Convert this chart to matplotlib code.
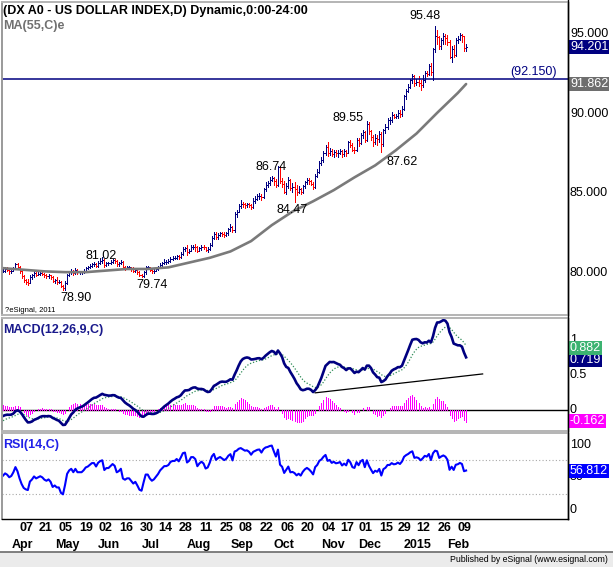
import numpy as np
import pandas as pd
import matplotlib
matplotlib.use("Agg")
import matplotlib.pyplot as plt
from matplotlib.lines import Line2D
from matplotlib.patches import Rectangle
from matplotlib.transforms import blended_transform_factory as blend

plt.rcParams["font.family"] = ["Liberation Sans", "DejaVu Sans"]

# ---------------------------------------------------------------
# data: DX A0 daily bars, 26 Mar 2014 - 13 Feb 2015
# ---------------------------------------------------------------
holidays = ["2014-04-18", "2014-05-26", "2014-07-04", "2014-09-01",
            "2014-11-03", "2014-11-27", "2014-12-25", "2015-01-01"]
trade_days = pd.bdate_range("2014-03-26", "2015-02-13")
trade_days = trade_days[~trade_days.isin(pd.to_datetime(holidays))]

opens = [
    80.25, 80.15, 80.25,
    80.20, 80.10, 80.15, 80.30, 80.55,
    80.40, 80.10, 79.80, 79.55, 79.45,
    79.40, 79.75, 79.85, 80.00,
    79.90, 79.95, 80.00, 79.95, 79.85,
    79.80, 79.85, 79.75, 79.50, 79.55,
    79.45, 79.45, 79.15, 79.05, 79.35,
    79.85, 80.05, 80.15, 80.00, 80.20,
    80.05, 80.05, 80.05, 80.15, 80.30,
    80.35, 80.45, 80.55, 80.55,
    80.45, 80.65, 80.75, 80.80, 80.50,
    80.60, 80.60, 80.70, 80.80, 80.75,
    80.55, 80.60, 80.70, 80.35, 80.30,
    80.35, 80.35, 80.25, 80.15, 80.20,
    80.05, 79.85, 79.80, 80.05,
    80.35, 80.35, 80.20, 80.10, 80.15,
    80.25, 80.35, 80.50, 80.60, 80.70,
    80.70, 80.75, 80.90, 80.95, 80.95,
    81.05, 81.00, 81.20, 81.50, 81.55,
    81.30, 81.40, 81.65, 81.65, 81.60,
    81.40, 81.55, 81.65, 81.60, 81.45,
    81.50, 81.75, 82.20, 82.45, 82.25,
    82.40, 82.50, 82.45, 82.40, 82.50,
    82.75, 82.90, 82.70, 83.70,
    83.85, 84.20, 84.35, 84.30, 84.25,
    84.30, 84.25, 84.15, 84.50, 84.65,
    84.80, 84.85, 84.75, 85.25, 85.55,
    85.65, 85.85, 85.95, 85.75, 85.55,
    86.65, 85.75, 85.60, 85.10, 85.45,
    85.85, 85.35, 85.40, 85.30, 85.10,
    85.25, 85.10, 85.45, 85.70, 85.85,
    85.75, 85.60, 85.40, 86.10, 86.35,
    86.90, 87.10, 87.55, 87.90,
    87.50, 87.65, 87.45, 87.60, 87.50,
    87.55, 87.65, 87.45, 87.65, 87.55,
    88.20, 88.05, 87.75, 87.70,
    88.35, 88.15, 88.65, 88.85, 88.35,
    89.35, 88.90, 88.55, 88.20, 88.50,
    88.40, 88.75, 88.10, 88.95, 89.15,
    89.60, 89.60, 89.90, 89.80,
    89.85, 90.05, 89.95, 90.30,
    91.10, 91.45, 91.70, 92.10, 92.35,
    91.90, 92.00, 91.95, 91.80, 92.10,
    92.55, 92.50, 93.00, 92.60, 94.05,
    94.85, 94.80, 94.25, 94.60, 94.85,
    94.75, 94.50, 93.55, 94.05, 93.70,
    94.60, 94.70, 94.95, 94.85, 94.10,
]
highs = [
    80.35, 80.35, 80.35,
    80.25, 80.25, 80.40, 80.60, 80.65,
    80.45, 80.15, 79.85, 79.65, 79.60,
    79.85, 79.95, 80.10, 80.05,
    80.05, 80.10, 80.05, 80.00, 79.95,
    79.95, 79.90, 79.80, 79.65, 79.75,
    79.55, 79.50, 79.25, 79.50, 79.95,
    80.15, 80.25, 80.20, 80.30, 80.25,
    80.15, 80.15, 80.25, 80.40, 80.45,
    80.55, 80.65, 80.70, 80.60,
    80.75, 80.85, 81.02, 80.90, 80.70,
    80.70, 80.80, 80.90, 80.85, 80.80,
    80.70, 80.80, 80.75, 80.45, 80.45,
    80.45, 80.40, 80.35, 80.30, 80.25,
    80.10, 79.95, 80.15, 80.45,
    80.45, 80.40, 80.25, 80.25, 80.35,
    80.45, 80.60, 80.70, 80.85, 80.80,
    80.85, 81.00, 81.05, 81.05, 81.15,
    81.15, 81.30, 81.60, 81.65, 81.75,
    81.50, 81.75, 81.75, 81.80, 81.70,
    81.65, 81.75, 81.75, 81.65, 81.65,
    81.85, 82.30, 82.55, 82.60, 82.50,
    82.60, 82.60, 82.55, 82.60, 82.85,
    83.05, 82.95, 83.80, 83.95,
    84.30, 84.55, 84.45, 84.40, 84.40,
    84.40, 84.35, 84.70, 84.85, 84.95,
    85.00, 84.95, 85.35, 85.70, 85.80,
    86.00, 86.10, 86.05, 85.90, 86.74,
    86.70, 85.95, 85.75, 85.65, 86.05,
    85.90, 85.65, 85.70, 85.55, 85.45,
    85.35, 85.55, 85.80, 85.95, 85.95,
    85.85, 85.70, 86.20, 86.50, 87.00,
    87.25, 87.65, 88.05, 88.20,
    87.85, 87.80, 87.75, 87.75, 87.70,
    87.80, 87.75, 87.80, 87.75, 88.30,
    88.35, 88.15, 87.90, 88.45,
    88.50, 88.80, 89.00, 88.90, 89.55,
    89.45, 89.00, 88.65, 88.70, 88.65,
    88.90, 88.85, 89.05, 89.35, 89.70,
    89.80, 90.10, 89.95, 89.95,
    90.25, 90.20, 90.45, 91.20,
    91.55, 91.85, 92.20, 92.50, 92.40,
    92.15, 92.35, 92.10, 92.45, 92.65,
    92.70, 93.10, 93.15, 94.15, 95.48,
    95.25, 94.90, 94.75, 95.05, 95.00,
    94.95, 94.60, 94.25, 94.30, 94.75,
    94.90, 95.05, 95.00, 94.90, 94.35,
]
lows = [
    80.05, 80.05, 80.10,
    79.95, 80.00, 80.10, 80.25, 80.30,
    80.00, 79.70, 79.45, 79.30, 79.25,
    79.35, 79.65, 79.75, 79.80,
    79.85, 79.90, 79.85, 79.75, 79.70,
    79.70, 79.65, 79.45, 79.40, 79.30,
    79.35, 79.10, 78.95, 78.90, 79.30,
    79.80, 79.95, 79.90, 79.95, 79.95,
    79.95, 79.95, 80.00, 80.10, 80.25,
    80.30, 80.40, 80.45, 80.35,
    80.40, 80.55, 80.65, 80.40, 80.45,
    80.50, 80.55, 80.60, 80.65, 80.45,
    80.45, 80.55, 80.30, 80.20, 80.25,
    80.25, 80.15, 80.05, 80.05, 79.95,
    79.80, 79.74, 79.75, 79.95,
    80.25, 80.15, 80.00, 80.00, 80.10,
    80.20, 80.30, 80.45, 80.55, 80.55,
    80.60, 80.70, 80.80, 80.85, 80.90,
    80.90, 80.95, 81.10, 81.40, 81.15,
    81.25, 81.35, 81.50, 81.40, 81.30,
    81.35, 81.45, 81.50, 81.35, 81.30,
    81.45, 81.70, 82.15, 82.15, 82.15,
    82.30, 82.35, 82.25, 82.30, 82.40,
    82.65, 82.60, 82.60, 83.50,
    83.80, 84.10, 84.15, 84.10, 84.15,
    84.15, 84.00, 84.05, 84.40, 84.55,
    84.65, 84.60, 84.70, 85.15, 85.40,
    85.55, 85.75, 85.55, 85.40, 85.45,
    85.65, 85.40, 85.00, 84.95, 85.35,
    85.20, 85.10, 84.47, 84.90, 85.00,
    84.95, 85.00, 85.35, 85.60, 85.60,
    85.50, 85.30, 85.35, 86.00, 86.30,
    86.75, 86.95, 87.40, 87.35,
    87.40, 87.35, 87.30, 87.35, 87.30,
    87.45, 87.30, 87.35, 87.35, 87.50,
    87.90, 87.65, 87.55, 87.65,
    87.95, 88.10, 88.50, 88.20, 88.30,
    88.70, 88.35, 87.95, 88.10, 88.05,
    88.25, 87.62, 87.95, 88.80, 89.05,
    89.35, 89.50, 89.70, 89.70,
    89.75, 89.80, 89.85, 90.25,
    90.90, 91.35, 91.60, 91.95, 91.75,
    91.80, 91.75, 91.50, 91.65, 92.00,
    92.35, 92.40, 92.45, 92.10, 93.90,
    94.40, 94.05, 94.05, 94.35, 94.40,
    94.30, 93.50, 93.25, 93.55, 93.60,
    94.45, 94.60, 94.50, 93.95, 93.95,
]
closes = [
    80.15, 80.25, 80.20,
    80.10, 80.15, 80.30, 80.55, 80.40,
    80.10, 79.80, 79.55, 79.45, 79.40,
    79.75, 79.85, 80.00, 79.90,
    79.95, 80.00, 79.95, 79.85, 79.80,
    79.85, 79.75, 79.50, 79.55, 79.45,
    79.45, 79.15, 79.05, 79.35, 79.85,
    80.05, 80.15, 80.00, 80.20, 80.05,
    80.05, 80.05, 80.15, 80.30, 80.35,
    80.45, 80.55, 80.55, 80.45,
    80.65, 80.75, 80.80, 80.50, 80.60,
    80.60, 80.70, 80.80, 80.75, 80.55,
    80.60, 80.70, 80.35, 80.30, 80.35,
    80.35, 80.25, 80.15, 80.20, 80.05,
    79.85, 79.80, 80.05, 80.35,
    80.35, 80.20, 80.10, 80.15, 80.25,
    80.35, 80.50, 80.60, 80.70, 80.70,
    80.75, 80.90, 80.95, 80.95, 81.05,
    81.00, 81.20, 81.50, 81.55, 81.30,
    81.40, 81.65, 81.65, 81.60, 81.40,
    81.55, 81.65, 81.60, 81.45, 81.50,
    81.75, 82.20, 82.45, 82.25, 82.40,
    82.50, 82.45, 82.40, 82.50, 82.75,
    82.90, 82.70, 83.70, 83.85,
    84.20, 84.35, 84.30, 84.25, 84.30,
    84.25, 84.15, 84.50, 84.65, 84.80,
    84.85, 84.75, 85.25, 85.55, 85.65,
    85.85, 85.95, 85.75, 85.55, 86.65,
    85.75, 85.60, 85.10, 85.45, 85.85,
    85.35, 85.40, 85.30, 85.10, 85.25,
    85.10, 85.45, 85.70, 85.85, 85.75,
    85.60, 85.40, 86.10, 86.35, 86.90,
    87.10, 87.55, 87.90, 87.50,
    87.65, 87.45, 87.60, 87.50, 87.55,
    87.65, 87.45, 87.65, 87.55, 88.20,
    88.05, 87.75, 87.70, 88.35,
    88.15, 88.65, 88.85, 88.35, 89.35,
    88.90, 88.55, 88.20, 88.50, 88.40,
    88.75, 88.10, 88.95, 89.15, 89.60,
    89.60, 89.90, 89.80, 89.85,
    90.05, 89.95, 90.30, 91.10,
    91.45, 91.70, 92.10, 92.35, 91.90,
    92.00, 91.95, 91.80, 92.10, 92.55,
    92.50, 93.00, 92.60, 94.05, 94.85,
    94.80, 94.25, 94.60, 94.85, 94.75,
    94.50, 93.55, 94.05, 93.70, 94.60,
    94.70, 94.95, 94.85, 94.10, 94.20,
]

# MA(55) (bar index, value)
ma_idx = [0, 10, 20, 30, 40, 50, 60, 70, 80, 90, 100, 110, 120, 130,
          140, 150, 160, 170, 180, 190, 200, 210, 220, 224]
ma_vals = [80.30, 80.20, 80.10, 80.05, 80.05, 80.15, 80.25, 80.25, 80.35,
           80.65, 80.95, 81.35, 82.00, 83.00, 83.85, 84.50, 85.20, 86.00,
           86.75, 87.70, 88.75, 90.05, 91.30, 91.86]

# indicator state carried in from before the first visible bar
ema12_seed, ema26_seed, signal_seed = 80.18, 80.27, -0.17
rsi_prev_close, rsi_gain_seed, rsi_loss_seed = 80.10, 0.07, 0.07

# drawn objects
hline_level = 92.150
macd_trend_idx = [151, 232]
macd_trend_vals = [0.245, 0.515]

# last values shown in the right margin
last_price, last_ma = 94.201, 91.862
last_macd, last_signal, last_hist = 0.719, 0.882, -0.162
last_rsi = 56.812

price_ticks = [80, 85, 90, 95]
day_ticks = ["2014-04-07", "2014-04-21", "2014-05-05", "2014-05-19",
             "2014-06-02", "2014-06-16", "2014-06-30", "2014-07-14",
             "2014-07-28", "2014-08-11", "2014-08-25", "2014-09-08",
             "2014-09-22", "2014-10-06", "2014-10-20", "2014-11-04",
             "2014-11-17", "2014-12-01", "2014-12-15", "2014-12-29",
             "2015-01-12", "2015-01-26", "2015-02-09"]

# swing labels: (bar, which extreme, offset px x, offset px y)
swing_marks = [(209, "high", -10, 10), (176, "high", -19, 3),
               (133, "high", -7, -1), (141, "low", -2, -8),
               (183, "low", 21, -10), (48, "high", -1, 1),
               (30, "low", 11, -8), (67, "low", 10, -8)]

# ---------------------------------------------------------------
# indicators
# ---------------------------------------------------------------
c = np.array(closes)
x = np.arange(len(c))


def ema(values, n, seed):
    k = 2.0 / (n + 1)
    out, e = [], seed
    for v in values:
        e = e + k * (v - e)
        out.append(e)
    return np.array(out)


macd = ema(c, 12, ema12_seed) - ema(c, 26, ema26_seed)
signal = ema(macd, 9, signal_seed)
hist = macd - signal

deltas = np.diff(c, prepend=rsi_prev_close)
g, l = rsi_gain_seed, rsi_loss_seed
rsi = []
for d in deltas:
    g = (g * 13 + max(d, 0)) / 14
    l = (l * 13 + max(-d, 0)) / 14
    rsi.append(100 - 100 / (1 + g / l))
rsi = np.array(rsi)

# ---------------------------------------------------------------
# figure
# ---------------------------------------------------------------
NAVY = "#000080"
RED = "#FF0000"
MAGENTA = "#FF00FF"
GREEN = "#2E8B57"
BLUE = "#0000FF"
W, H = 613, 567

fig = plt.figure(figsize=(W / 100, H / 100), dpi=100)
fig.patch.set_facecolor("white")


def pane(top, bottom):
    return fig.add_axes([2 / W, 1 - bottom / H, 566 / W, (bottom - top) / H])


ax_p = pane(2, 315)
ax_m = pane(318, 431)
ax_r = pane(433, 519)
for ax in (ax_p, ax_m, ax_r):
    ax.set_xlim(-0.5, 273.3)
    ax.set_xticks([])
    ax.set_yticks([])
    ax.spines["left"].set_color("#9A9A9A")
    ax.spines["left"].set_linewidth(1.4)
    ax.spines["top"].set_color("#B4B4B4")
    ax.spines["top"].set_linewidth(1.4)
    ax.spines["bottom"].set_color("#B4B4B4")
    ax.spines["bottom"].set_linewidth(1.4)
    ax.spines["right"].set_color("black")
    ax.spines["right"].set_linewidth(1.0)
ax_r.spines["bottom"].set_color("black")
ax_r.spines["bottom"].set_linewidth(1.0)


def right_label(ax, y, text, fc=None, color="black", frac=False, z=5):
    tr = ax.transAxes if frac else blend(ax.transAxes, ax.transData)
    kw = {}
    if fc is not None:
        kw["bbox"] = dict(boxstyle="square,pad=0.08", fc=fc, ec="none")
    ax.text(1.0035, y, text, transform=tr, ha="left", va="center",
            fontsize=9, color=color, clip_on=False, zorder=z, **kw)


# ---- price pane ----
up = np.concatenate([[True], c[1:] >= c[:-1]])
bar_colors = np.where(up, NAVY, RED)
ax_p.vlines(x, lows, highs, colors=bar_colors, lw=0.55, antialiased=False)
ax_p.hlines(opens, x - 0.45, x, colors=bar_colors, lw=0.55, antialiased=False)
ax_p.hlines(closes, x, x + 0.45, colors=bar_colors, lw=0.55, antialiased=False)
ax_p.plot(ma_idx, ma_vals, color="#7A7A7A", lw=1.9, solid_capstyle="round")
ax_p.axhline(hline_level, color=NAVY, lw=1.1)
ax_p.set_ylim(77.36, 97.01)

for i, kind, dx, dy in swing_marks:
    v = highs[i] if kind == "high" else lows[i]
    ax_p.annotate(f"{v:.2f}", (i, v), xytext=(dx, dy),
                  textcoords="offset pixels", ha="center", va="center",
                  fontsize=9, color="black")

ax_p.annotate(f"({hline_level:.3f})", xy=(1, hline_level),
              xycoords=blend(ax_p.transAxes, ax_p.transData),
              xytext=(-11, 7), textcoords="offset pixels",
              ha="right", va="center", fontsize=9, color=NAVY)

for t in price_ticks:
    right_label(ax_p, t, f"{t:.3f}")
right_label(ax_p, last_price, f"{last_price:.3f}", fc=NAVY, color="white")
right_label(ax_p, last_ma, f"{last_ma:.3f}", fc="#6E6E6E", color="white")

# ---- MACD pane ----
ax_m.set_ylim(-0.30, 1.314)
ax_m.axhline(0, color="black", lw=1.0)
ax_m.vlines(x, 0, hist, colors=MAGENTA, lw=0.7, antialiased=False)
ax_m.plot(x, signal, color=GREEN, lw=0.9, ls=(0, (1, 1.5)))
ax_m.plot(x, macd, color=NAVY, lw=1.9)
ax_m.plot(macd_trend_idx, macd_trend_vals, color="black", lw=0.9)

right_label(ax_m, 1.0, "1", z=4)
right_label(ax_m, 0.5, "0.5", z=4)
right_label(ax_m, 0.0, "0", z=4)
right_label(ax_m, last_macd, f"{last_macd:.3f}", fc=NAVY, color="white", z=5)
right_label(ax_m, last_signal, f"{last_signal:.3f}", fc="#3CB371",
            color="white", z=6)
right_label(ax_m, last_hist, f"{last_hist:.3f}", fc=MAGENTA, color="white")

# ---- RSI pane ----
ax_r.set_ylim(0, 101.8)
for lvl in (70, 30):
    ax_r.axhline(lvl, color="#A8A8A8", lw=0.8, ls=(0, (1, 2)))
ax_r.plot(x, rsi, color=BLUE, lw=1.5)

right_label(ax_r, 0.86, "100", frac=True, z=4)
right_label(ax_r, 50, "50", z=4)
right_label(ax_r, 0.105, "0", frac=True, z=4)
right_label(ax_r, last_rsi, f"{last_rsi:.3f}", fc=BLUE, color="white")

# ---- date axis ----
tr_date = blend(ax_r.transData, fig.transFigure)
for d in day_ticks:
    i = trade_days.get_loc(pd.Timestamp(d))
    ax_r.text(i, 1 - 528 / H, d[-2:], transform=tr_date, ha="left",
              va="center", fontsize=9, fontweight="bold", clip_on=False)

pos = pd.Series(np.arange(len(trade_days)), index=trade_days)
month_first = pos.groupby(trade_days.to_period("M")).first().iloc[1:]
for per, i in month_first.items():
    name = str(per.year) if per.month == 1 else per.strftime("%b")
    ax_r.text(i, 1 - 545 / H, name, transform=tr_date, ha="left",
              va="center", fontsize=9, fontweight="bold", clip_on=False)

# ---- titles / captions ----
fig.text(3 / W, 1 - 11 / H, "(DX A0 - US DOLLAR INDEX,D) Dynamic,0:00-24:00",
         fontsize=9, fontweight="bold", va="center")
fig.text(3 / W, 1 - 26.5 / H, "MA(55,C)e", fontsize=9, fontweight="bold",
         color="#707070", va="center")
fig.text(5 / W, 1 - 310 / H, "?eSignal, 2011", fontsize=5.5, va="center")
fig.text(3 / W, 1 - 330 / H, "MACD(12,26,9,C)", fontsize=9,
         fontweight="bold", color="#1A1A8C", va="center")
fig.text(3 / W, 1 - 445 / H, "RSI(14,C)", fontsize=9, fontweight="bold",
         color="#2020E8", va="center")

# right axis line and footer strip
fig.add_artist(Line2D([568 / W, 568 / W], [1 - 519 / H, 1], color="black",
                      lw=1.0))
fig.add_artist(Rectangle((0, 0), 1, 15 / H, transform=fig.transFigure,
                         fc="#EBEBEB", ec="none"))
fig.add_artist(Line2D([0, 1], [15 / H, 15 / H], color="#6A6A6A", lw=1.2))
fig.text(608 / W, 1 - 560 / H, "Published by eSignal (www.esignal.com)",
         fontsize=6.3, ha="right", va="center")

fig.savefig("out.png", dpi=100)
